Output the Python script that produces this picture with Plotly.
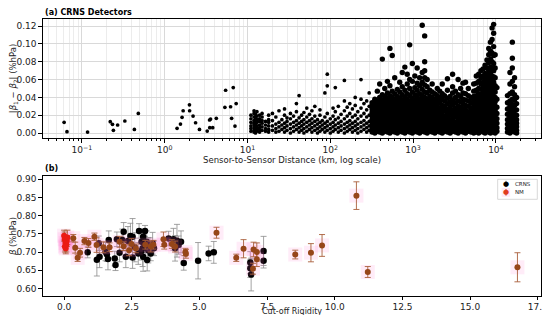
import plotly.graph_objects as go

# ---------------- Panel (a): |beta1 - beta2| vs sensor-to-sensor distance ----------------
# isolated pairs (km, %/hPa)
sparse_km = [0.061, 0.066, 0.117, 0.22, 0.234, 0.24, 0.27, 0.33, 0.43, 0.48,
             1.41, 1.55, 1.62, 1.67, 1.99, 2.0, 2.2, 2.36, 2.63, 3.26, 3.48, 3.58,
             3.5, 3.8, 4.2, 5.44, 5.33, 6.25, 6.43, 6.73, 7.06, 7.3]
sparse_diff = [0.012, 0.0015, 0.001, 0.0127, 0.0098, 0.003, 0.009, 0.0135, 0.004, 0.022,
               0.0053, 0.010, 0.0176, 0.025, 0.0317, 0.025, 0.019, 0.0115, 0.004, 0.0022,
               0.0146, 0.0157, 0.006, 0.006, 0.0165, 0.048, 0.0288, 0.0295, 0.0165, 0.051,
               0.0078, 0.033]

# moderately populated distances (km) and their differences (x 1e-3 %/hPa)
spread_km = [11, 12, 12.5, 13, 14, 15, 16.5, 18, 20, 22, 24, 26, 28, 30, 33, 36, 39, 42, 45,
             48, 52, 56, 60, 65, 70, 75, 80, 86, 92, 100, 108, 115, 125, 135, 148, 160,
             172, 185, 200, 215, 235, 255, 275, 295]
spread_milli = [
    [2, 5, 8, 12, 16, 20], [1, 3, 6, 9, 11, 14, 18, 22, 25], [0, 4, 7, 10, 13, 17, 21],
    [2, 5, 8, 12, 15, 19, 24], [1, 4, 6, 9, 13, 16, 20], [3, 7, 11, 14, 18, 22],
    [2, 5, 9, 13], [1, 4, 8, 12, 15, 20], [3, 8, 14, 22], [1, 5, 10, 18],
    [2, 7, 12, 25], [4, 9, 15], [1, 6, 11, 20, 27], [3, 8, 13, 17], [0, 5, 10, 16, 22],
    [2, 7, 12, 19], [4, 9, 14, 24, 33], [1, 6, 11, 17, 42], [3, 8, 13, 20],
    [0, 5, 10, 15, 23], [2, 7, 12, 18, 28], [4, 9, 14, 21], [1, 6, 11, 16, 25],
    [3, 8, 13, 19, 30], [0, 5, 10, 15], [2, 7, 12, 20, 26], [4, 9, 14],
    [1, 6, 11, 18, 45], [3, 8, 13, 22, 53, 66], [0, 5, 10, 16], [2, 7, 12, 19, 28],
    [4, 9, 15, 24, 51], [1, 6, 11, 17, 30], [3, 8, 13, 21], [0, 5, 10, 16, 25, 36, 59],
    [2, 7, 12, 19, 29], [4, 9, 14, 22, 33], [1, 6, 11, 18, 27], [3, 8, 13, 20, 31, 40],
    [0, 5, 10, 16, 24], [2, 7, 12, 19, 28, 38, 60], [4, 9, 14, 22, 33],
    [1, 6, 11, 18, 26, 36], [3, 8, 13, 20, 30, 45]]

# densely populated distances (km) and their differences (x 1e-3 %/hPa)
dense_km = [320, 345, 370, 395, 425, 455, 490, 525, 560, 600, 645, 690, 740, 795, 850,
            910, 980, 1050, 1120, 1200, 1290, 1380, 1480, 1590, 1700, 1830, 1960,
            2100, 2250, 2400, 2600, 2800, 3000, 3250, 3500, 3750, 4000, 4300, 4650, 5000,
            5400, 5800, 6200, 6600, 7000, 7400, 7800, 8200, 8600, 9000, 9400, 9800, 10300,
            13800, 14800, 15800, 16800, 17800]
dense_milli = [
    [1, 4, 8, 12, 15, 19, 23, 27, 31, 34],
    [0, 3, 6, 10, 14, 17, 21, 25, 29, 33, 38],
    [2, 5, 9, 13, 16, 20, 24, 28, 32, 36, 47],
    [1, 4, 7, 11, 15, 18, 22, 26, 30, 35, 40, 55],
    [0, 3, 6, 10, 13, 17, 21, 25, 29, 33, 37, 43, 83],
    [2, 5, 8, 12, 16, 20, 23, 27, 31, 36, 41, 50],
    [1, 4, 7, 11, 14, 18, 22, 26, 30, 34, 39, 45, 58],
    [0, 3, 6, 9, 13, 17, 21, 24, 28, 32, 37, 42, 53, 95],
    [2, 5, 8, 12, 15, 19, 23, 27, 31, 35, 40, 47, 87],
    [1, 4, 7, 10, 14, 18, 22, 26, 29, 33, 38, 44, 62],
    [0, 3, 6, 9, 13, 16, 20, 24, 28, 32, 36, 41, 49],
    [2, 5, 8, 11, 15, 19, 23, 27, 30, 34, 39, 46, 57],
    [1, 4, 7, 10, 14, 17, 21, 25, 29, 33, 37, 43, 52, 68],
    [0, 3, 6, 9, 12, 16, 20, 24, 27, 31, 35, 40, 48, 74],
    [2, 5, 8, 11, 15, 18, 22, 26, 30, 34, 38, 44, 55, 66],
    [1, 4, 7, 10, 13, 17, 21, 25, 28, 32, 36, 42, 50, 60, 99],
    [0, 3, 6, 9, 12, 16, 19, 23, 27, 31, 35, 39, 46, 58, 78],
    [2, 5, 8, 11, 14, 18, 22, 26, 29, 33, 37, 43, 51, 64],
    [1, 4, 7, 10, 13, 17, 20, 24, 28, 32, 36, 41, 48, 56, 73],
    [0, 3, 6, 9, 12, 15, 19, 23, 27, 30, 34, 38, 44, 53, 62],
    [2, 5, 8, 11, 14, 18, 21, 25, 29, 33, 37, 42, 49, 57, 68, 121],
    [1, 4, 7, 10, 13, 16, 20, 24, 28, 31, 35, 40, 46, 54, 62, 70, 80, 109],
    [0, 3, 6, 9, 12, 15, 19, 22, 26, 30, 34, 38, 45, 52, 60],
    [2, 5, 8, 11, 14, 17, 21, 25, 28, 32, 36, 41, 48],
    [1, 4, 7, 10, 13, 16, 20, 23, 27, 31, 35, 40, 46, 55],
    [0, 3, 6, 9, 12, 15, 18, 22, 26, 29, 33, 38, 44],
    [2, 5, 8, 11, 14, 17, 21, 24, 28, 32, 37, 42, 50],
    [1, 5, 9, 14, 18, 23, 28, 34, 40, 47],
    [0, 3, 7, 12, 16, 21, 26, 31, 38, 44, 55],
    [2, 6, 10, 15, 19, 25, 30, 36, 42],
    [1, 4, 8, 13, 17, 22, 27, 33, 39, 48, 61],
    [0, 5, 9, 14, 20, 24, 29, 35, 41],
    [2, 6, 11, 16, 21, 26, 32, 37, 45, 52, 66],
    [1, 4, 8, 12, 18, 23, 28, 34, 40, 47],
    [0, 3, 7, 11, 15, 20, 25, 30, 36, 43, 60],
    [2, 5, 9, 14, 19, 24, 29, 35, 41, 50],
    [1, 4, 8, 12, 17, 22, 27, 33, 38, 45, 56],
    [0, 3, 7, 11, 16, 21, 26, 31, 37, 44, 57],
    [2, 6, 10, 14, 19, 24, 30, 36, 42, 50],
    [1, 5, 9, 13, 18, 23, 28, 34, 40],
    [0, 3, 6, 9, 13, 16, 20, 24, 28, 32, 36, 41, 47, 55],
    [1, 4, 7, 10, 14, 17, 21, 25, 29, 33, 37, 42, 48, 56, 64],
    [0, 3, 6, 9, 12, 16, 19, 23, 27, 31, 35, 39, 44, 50, 58, 66],
    [2, 5, 8, 11, 15, 18, 22, 26, 30, 34, 38, 43, 49, 55, 62, 70],
    [1, 4, 7, 10, 13, 17, 20, 24, 28, 32, 36, 40, 45, 51, 57, 64, 72],
    [0, 3, 6, 9, 12, 16, 19, 23, 27, 31, 35, 39, 43, 48, 54, 60, 67, 76],
    [2, 5, 8, 11, 14, 18, 21, 25, 29, 33, 37, 41, 46, 52, 58, 65, 73, 82],
    [1, 4, 7, 10, 13, 17, 20, 24, 28, 32, 36, 40, 44, 49, 55, 62, 70, 79, 88, 95],
    [0, 3, 6, 9, 12, 16, 19, 23, 27, 31, 35, 39, 43, 48, 53, 59, 66, 74, 83, 92, 102],
    [2, 5, 8, 11, 14, 18, 22, 26, 30, 34, 38, 42, 47, 52, 58, 64, 71, 80, 90, 105, 118],
    [1, 4, 7, 10, 13, 17, 21, 25, 29, 33, 37, 41, 46, 51, 57, 63, 70, 78, 87, 97, 112, 122],
    [0, 3, 6, 9, 13, 17, 21, 25, 30, 35, 40, 46, 53, 62, 73, 88],
    [2, 6, 11, 16, 22, 29, 38, 51],
    [1, 5, 10, 15, 21, 27, 34, 42],
    [0, 3, 7, 11, 16, 20, 25, 30, 36, 44, 55, 68],
    [2, 5, 9, 13, 17, 22, 27, 32, 38, 46, 58, 73, 84, 102],
    [1, 4, 8, 12, 16, 21, 26, 31, 37, 43, 52, 62],
    [0, 3, 7, 11, 15, 20, 26, 33, 40]]

# ---------------- Panel (b): beta vs cut-off rigidity ----------------
crns_rigidity = [0.87, 1.21, 1.31, 1.28, 1.53, 1.58, 1.62, 1.65, 1.87, 1.90, 1.95, 2.05,
                 2.15, 2.20, 2.28, 2.36, 2.45, 2.53, 2.53, 2.61, 2.74, 2.77, 2.86, 2.86,
                 2.90, 2.92, 2.92, 2.99, 3.00, 3.05, 3.07, 3.11, 3.17, 3.20, 3.27, 3.32,
                 3.86, 4.04, 4.10, 4.17, 4.23, 4.32, 4.42, 4.95, 5.34, 5.53, 6.88, 6.91,
                 6.88, 7.37, 7.37]
crns_beta = [0.699, 0.679, 0.687, 0.724, 0.701, 0.694, 0.681, 0.733, 0.682, 0.664, 0.735,
             0.698, 0.733, 0.756, 0.687, 0.730, 0.744, 0.742, 0.685, 0.713, 0.696, 0.758,
             0.728, 0.703, 0.710, 0.687, 0.742, 0.758, 0.719, 0.728, 0.678, 0.705, 0.714,
             0.696, 0.724, 0.710, 0.737, 0.735, 0.710, 0.731, 0.719, 0.728, 0.670, 0.676,
             0.696, 0.699, 0.671, 0.638, 0.655, 0.703, 0.676]
crns_err = [0.015, 0.045, 0.03, 0.02, 0.025, 0.02, 0.03, 0.025, 0.02, 0.015, 0.02, 0.025,
            0.03, 0.025, 0.03, 0.04, 0.035, 0.05, 0.03, 0.04, 0.03, 0.02, 0.035, 0.025,
            0.05, 0.04, 0.02, 0.015, 0.04, 0.03, 0.03, 0.035, 0.025, 0.02, 0.03, 0.02,
            0.02, 0.03, 0.035, 0.045, 0.025, 0.03, 0.02, 0.05, 0.02, 0.03, 0.03, 0.045,
            0.025, 0.04, 0.02]

nm_rigidity = [0.00, 0.02, 0.03, 0.05, 0.06, 0.08, 0.10, 0.12, 0.34, 0.41, 0.50, 0.59,
               0.75, 0.90, 1.12, 1.20, 1.45, 1.68, 2.05, 2.20, 2.40, 2.49, 2.65, 3.00,
               3.20, 3.30, 3.67, 3.70, 3.98, 4.10, 4.48, 4.50, 5.63, 6.36, 6.63, 7.00,
               6.98, 7.12, 7.12, 8.54, 9.12, 9.53, 10.80, 11.22, 16.75]
nm_beta = [0.745, 0.735, 0.715, 0.725, 0.71, 0.72, 0.73, 0.74, 0.738, 0.712, 0.684, 0.698,
           0.73, 0.725, 0.742, 0.719, 0.713, 0.713, 0.728, 0.716, 0.705, 0.722, 0.71, 0.72,
           0.715, 0.72, 0.735, 0.72, 0.722, 0.715, 0.70, 0.695, 0.753, 0.684, 0.709, 0.707,
           0.654, 0.70, 0.68, 0.693, 0.698, 0.718, 0.855, 0.645, 0.658]
nm_err = [0.015, 0.02, 0.015, 0.02, 0.015, 0.02, 0.015, 0.02, 0.01, 0.015, 0.01, 0.012,
          0.01, 0.012, 0.01, 0.02, 0.015, 0.012, 0.015, 0.012, 0.015, 0.015, 0.012, 0.012,
          0.015, 0.012, 0.02, 0.012, 0.012, 0.015, 0.01, 0.012, 0.015, 0.01, 0.025, 0.02,
          0.015, 0.025, 0.02, 0.012, 0.025, 0.03, 0.038, 0.015, 0.04]

legend_labels = ["CRNS", "NM"]

# ---------------- build tables ----------------
def flatten(km_list, milli_list):
    xs, ys = [], []
    for km, vals in zip(km_list, milli_list):
        for v in vals:
            xs.append(km)
            ys.append(v / 1000.0)
    return xs, ys

spread_x, spread_y = flatten(spread_km, spread_milli)
dense_x, dense_y = flatten(dense_km, dense_milli)

fig = go.Figure()

# Panel (a)
fig.add_trace(go.Scatter(x=sparse_km + spread_x, y=sparse_diff + spread_y, mode="markers",
                         marker=dict(color="black", size=3.7), showlegend=False,
                         xaxis="x", yaxis="y"))
fig.add_trace(go.Scatter(x=dense_x, y=dense_y, mode="markers",
                         marker=dict(color="black", size=5.4), showlegend=False,
                         xaxis="x", yaxis="y"))

# Panel (b)
fig.add_trace(go.Scatter(x=crns_rigidity, y=crns_beta, mode="markers", name=legend_labels[0],
                         marker=dict(color="black", size=6.5), showlegend=False,
                         error_y=dict(type="data", array=crns_err, color="rgba(140,140,140,0.8)",
                                      thickness=1, width=3),
                         xaxis="x2", yaxis="y2"))
fig.add_trace(go.Scatter(x=nm_rigidity, y=nm_beta, mode="markers", showlegend=False,
                         marker=dict(symbol="square", size=14, color="rgba(255,110,200,0.13)"),
                         hoverinfo="skip", xaxis="x2", yaxis="y2"))
nm_colors = ["rgb(235,25,20)" if r < 0.15 else "rgb(150,70,25)" for r in nm_rigidity]
fig.add_trace(go.Scatter(x=nm_rigidity, y=nm_beta, mode="markers", name=legend_labels[1],
                         marker=dict(color=nm_colors, size=6), showlegend=False,
                         error_y=dict(type="data", array=nm_err, color="rgba(170,95,60,0.9)",
                                      thickness=1, width=3),
                         xaxis="x2", yaxis="y2"))

minor_vals = [m * 10 ** e for e in range(-2, 5) for m in range(2, 10)]
tickfont = dict(family="DejaVu Sans", size=9, color="#222")
axis_common = dict(showline=True, linecolor="black", linewidth=1.3, mirror=True,
                   ticks="outside", tickcolor="black", tickfont=tickfont,
                   zeroline=False, automargin=False)

# manual legend box (paper coords of panel b, top right)
lx0, lx1, ly0, ly1 = 0.913, 0.9926, 0.349, 0.4213
shapes = [
    dict(type="rect", xref="paper", yref="paper", x0=lx0, x1=lx1, y0=ly0, y1=ly1,
         line=dict(color="#cfcfcf", width=0.8), fillcolor="white", layer="above"),
    dict(type="rect", xref="paper", yref="paper", x0=0.921, x1=0.938, y0=0.358, y1=0.390,
         line=dict(width=0), fillcolor="rgba(255,110,200,0.15)", layer="above"),
    dict(type="line", xref="paper", yref="paper", x0=0.9297, x1=0.9297, y0=0.393, y1=0.416,
         line=dict(color="rgba(120,120,120,0.9)", width=1), layer="above"),
    dict(type="line", xref="paper", yref="paper", x0=0.9297, x1=0.9297, y0=0.362, y1=0.386,
         line=dict(color="rgba(170,95,60,0.9)", width=1), layer="above"),
]
legend_ann = []
for lbl, yv, col in zip(legend_labels, [0.4043, 0.3744], ["black", "rgb(225,60,30)"]):
    legend_ann.append(dict(text="●", x=0.9297, y=yv, xref="paper", yref="paper",
                           xanchor="center", yanchor="middle", showarrow=False,
                           font=dict(size=7, color=col)))
    legend_ann.append(dict(text=lbl, x=0.943, y=yv, xref="paper", yref="paper",
                           xanchor="left", yanchor="middle", showarrow=False,
                           font=dict(size=5.5, color="#222")))

# The page body adds an 8px offset; the figure is sized so the page fits the window exactly.
fig.update_layout(
    width=542, height=307,
    margin=dict(l=35, r=9, t=11, b=19, autoexpand=False),
    paper_bgcolor="white", plot_bgcolor="white",
    font=dict(family="DejaVu Sans", size=9, color="#222"),
    showlegend=False,
    xaxis=dict(type="log", range=[-1.47, 4.545], anchor="y", domain=[0, 1],
               tickvals=[0.1, 1, 10, 100, 1000, 10000],
               ticktext=["10<sup>−1</sup>", "10<sup>0</sup>", "10<sup>1</sup>",
                         "10<sup>2</sup>", "10<sup>3</sup>", "10<sup>4</sup>"],
               showgrid=True, gridcolor="#d9d9d9", gridwidth=0.8, ticklen=3.5,
               minor=dict(tickvals=minor_vals, showgrid=True, gridcolor="#ececec",
                          gridwidth=0.6, ticks="outside", ticklen=2, tickcolor="black"),
               title=dict(text="Sensor-to-Sensor Distance (km, log scale)",
                          font=dict(size=8.5), standoff=2),
               **axis_common),
    yaxis=dict(range=[-0.0056, 0.128], domain=[0.5704, 1.0], anchor="x",
               tickvals=[0, 0.02, 0.04, 0.06, 0.08, 0.10, 0.12], tickformat=".2f",
               showgrid=True, gridcolor="#d9d9d9", gridwidth=0.8, ticklen=3.5,
               title=dict(text="|<i>β</i><sub>1</sub> − <i>β</i><sub>2</sub>| (%hPa)",
                          font=dict(size=8.5), standoff=3),
               **axis_common),
    xaxis2=dict(range=[-0.78, 17.62], anchor="y2", domain=[0, 1], ticklen=2.5,
                tickvals=[0, 2.5, 5, 7.5, 10, 12.5, 15, 17.5], tickformat=".1f",
                showgrid=False, **axis_common),
    yaxis2=dict(range=[0.579, 0.909], domain=[0, 0.4332], anchor="x2", ticklen=3.5,
                tickvals=[0.60, 0.65, 0.70, 0.75, 0.80, 0.85, 0.90], tickformat=".2f",
                showgrid=False,
                title=dict(text="<i>β</i> (%hPa)", font=dict(size=8.5), standoff=3),
                **axis_common),
    shapes=shapes,
    annotations=[
        dict(text="<b>(a) CRNS Detectors</b>", x=0, y=1.0, xref="paper", yref="paper",
             xanchor="left", yanchor="middle", yshift=6.5, showarrow=False,
             font=dict(size=8, color="black")),
        dict(text="<b>(b)</b>", x=0, y=0.4332, xref="paper", yref="paper",
             xanchor="left", yanchor="middle", yshift=8, showarrow=False,
             font=dict(size=8, color="black")),
        dict(text="Cut-off Rigidity", x=0.5, y=-0.0575, xref="paper", yref="paper",
             xanchor="center", yanchor="middle", showarrow=False,
             font=dict(size=8, color="#222")),
    ] + legend_ann,
)

fig.write_html("out.html")
